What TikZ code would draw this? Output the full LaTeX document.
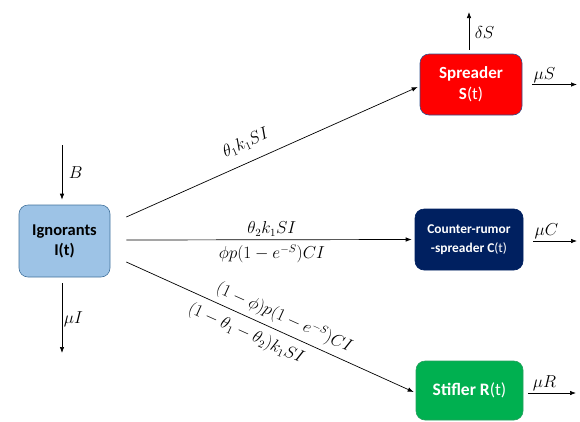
\documentclass[tikz,border=0pt]{standalone}
\usepackage[no-math]{fontspec}
\setmainfont{Carlito}
\usetikzlibrary{arrows.meta,calc}
\definecolor{ignfill}{RGB}{157,195,230}
\definecolor{ignline}{RGB}{65,113,156}
\definecolor{sprfill}{RGB}{255,0,0}
\definecolor{crfill}{RGB}{0,32,96}
\definecolor{stifill}{RGB}{0,176,80}
\definecolor{boxline}{RGB}{47,82,143}
\begin{document}
\begin{tikzpicture}[x=1pt,y=-1pt,
  box/.style={draw, rounded corners=9pt, align=center, line width=0.6pt, inner sep=2pt},
  arr/.style={-{Latex[length=6pt,width=4.5pt]}, line width=0.7pt},
  lbl/.style={font=\fontsize{16}{18}\selectfont, inner sep=1.5pt}]
\useasboundingbox (0,0) rectangle (580,421);
\node[box, fill=ignfill, draw=ignline, minimum width=91pt, minimum height=72pt,
  font=\fontsize{16.5}{20}\selectfont\bfseries] (I) at (64.5,241) {Ignorants\\I(t)};
\node[box, fill=sprfill, draw=boxline, text=white, minimum width=102pt, minimum height=61pt,
  font=\fontsize{17}{21}\selectfont] (S) at (471,84.5) {\textbf{Spreader}\\\textbf{S}(t)};
\node[box, fill=crfill, draw=crfill, text=white, minimum width=108pt, minimum height=61pt,
  font=\fontsize{13.4}{19}\selectfont] (C) at (469,239.5) {\textbf{Counter-rumor}\\\textbf{-spreader C}(t)};
\node[box, fill=stifill, draw=stifill!70!gray, text=white, minimum width=107pt, minimum height=59pt,
  font=\fontsize{17.5}{20}\selectfont] (R) at (469.5,390.5) {\textbf{Stifler R}(t)};
\coordinate (Btop) at (62,145);
\coordinate (Ibot) at (62,353);
\coordinate (Stop) at (469,12);
\coordinate (Send) at (577,84.5);
\coordinate (Cend) at (577,241);
\coordinate (Rend) at (576,393);
% start / end points of transitions
\coordinate (a1) at ($(I.east)+(16,-24)$);
\coordinate (b1) at ($(S.west)+(-2,2.5)$);
\coordinate (a2) at ($(I.east)+(16,-1)$);
\coordinate (b2) at ($(C.west)+(-3,0)$);
\coordinate (a3) at ($(I.east)+(16,21)$);
\coordinate (b3) at ($(R.west)+(-2,1.5)$);
% inflow / outflow
\draw[arr] (Btop) -- node[lbl, right, xshift=5pt, pos=0.5] {$B$} ($(I.north)+(-2.5,-5)$);
\draw[arr] ($(I.south)+(-2.5,6)$) -- node[lbl, right, xshift=0pt, pos=0.52] {$\mu I$} (Ibot);
\draw[arr] ($(S.north)+(-2,-4)$) -- node[lbl, right, xshift=4pt, pos=0.45] {$\delta S$} (Stop);
\draw[arr] ($(S.east)+(10,0)$) -- node[lbl, above, pos=0.27] {$\mu S$} (Send);
\draw[arr] ($(C.east)+(10,1.5)$) -- node[lbl, above, pos=0.3] {$\mu C$} (Cend);
\draw[arr] ($(R.east)+(5,2.5)$) -- node[lbl, above, pos=0.34] {$\mu R$} (Rend);
% transitions
\draw[arr] (a1) -- (b1);
\draw[arr] (a2) --
  node[lbl, above, pos=0.51, yshift=1.5pt] {$\theta_2k_1SI$}
  node[lbl, below, pos=0.51, yshift=-3pt] {$\phi p(1-e^{-S})CI$} (b2);
\draw[arr] (a3) -- (b3);
% sloped labels
\node[lbl, rotate=24.0] (l1) at ($(a1)!0.437!(b1)+(-7.7,-17.4)$) {$\theta_1k_1SI$};
\node[lbl, rotate=-24.3] (l3a) at ($(a3)!0.53!(b3)+(5.8,-13)$) {$(1-\phi)p(1-e^{-S})CI$};
\node[lbl, rotate=-24.3] (l3b) at ($(a3)!0.44!(b3)+(-6.6,14.6)$) {$(1-\theta_1-\theta_2)k_1SI$};
\end{tikzpicture}
\end{document}
